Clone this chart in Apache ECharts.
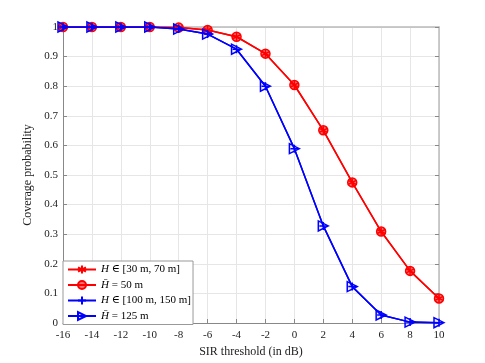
<!DOCTYPE html>
<html>
<head>
<meta charset="utf-8">
<script src="https://cdn.jsdelivr.net/npm/echarts@6/dist/echarts.min.js"></script>
<style>
  html, body { margin: 0; padding: 0; background: #fff; }
  #chart { width: 485px; height: 363px; }
</style>
</head>
<body>
<div id="chart"></div>
<script>
// SIR threshold (dB)
var sirThreshold = [-16, -14, -12, -10, -8, -6, -4, -2, 0, 2, 4, 6, 8, 10];
// coverage probability
var covRange30to70 = [1, 1, 1, 1, 0.998, 0.99, 0.967, 0.91, 0.804, 0.651, 0.475, 0.309, 0.176, 0.083];
var covMean50 = [1, 1, 1, 1, 0.998, 0.99, 0.967, 0.91, 0.804, 0.651, 0.475, 0.309, 0.176, 0.083];
var covRange100to150 = [1, 1, 1, 1, 0.993, 0.976, 0.925, 0.80, 0.589, 0.328, 0.123, 0.027, 0.003, 0.001];
var covMean125 = [1, 1, 1, 1, 0.993, 0.976, 0.925, 0.80, 0.589, 0.328, 0.123, 0.027, 0.003, 0.001];
var yTicks = [0, 0.1, 0.2, 0.3, 0.4, 0.5, 0.6, 0.7, 0.8, 0.9, 1];

var legendText = {
  s1: '{i|H} ∈ [30 m, 70 m]',
  s2: '{i|H\u0304} = 50 m',
  s3: '{i|H} ∈ [100 m, 150 m]',
  s4: '{i|H\u0304} = 125 m'
};

var serif = '"Liberation Serif", "DejaVu Serif", serif';
var starPath = 'path://M0,-10L0,10M-8.66,-5L8.66,5M-8.66,5L8.66,-5';
var plusPath = 'path://M0,-10L0,10M-10,0L10,0';

function pairs(ys) {
  return sirThreshold.map(function (x, i) { return [x, ys[i]]; });
}

var chart = echarts.init(document.getElementById('chart'));

var option = {
  backgroundColor: '#fff',
  animation: false,
  textStyle: { fontFamily: serif },
  grid: { left: 63, right: 46, top: 27, bottom: 40, show: false },
  legend: {
    orient: 'vertical',
    left: 63,
    top: 261,
    padding: [3, 2, 3, 4],
    itemWidth: 28,
    itemHeight: 10,
    itemGap: 4.5,
    backgroundColor: '#fff',
    borderColor: '#999',
    borderWidth: 1,
    borderRadius: 0,
    data: ['s1', 's2', 's3', 's4'],
    formatter: function (name) { return legendText[name]; },
    textStyle: {
      fontFamily: serif,
      fontSize: 11,
      color: '#000',
      rich: { i: { fontFamily: serif, fontStyle: 'italic', fontSize: 11, color: '#000' } }
    }
  },
  xAxis: [{
    type: 'value',
    min: -16,
    max: 10,
    interval: 2,
    name: 'SIR threshold (in dB)',
    nameLocation: 'middle',
    nameGap: 22,
    nameTextStyle: { fontFamily: serif, fontSize: 12, color: '#222' },
    axisLine: { onZero: false, lineStyle: { color: '#888', width: 1 } },
    axisTick: { inside: true, length: 4, lineStyle: { color: '#888' } },
    axisLabel: { fontFamily: serif, fontSize: 11, color: '#222', margin: 7 },
    splitLine: { show: true, lineStyle: { color: '#e6e6e6', width: 1 } }
  }, {
    type: 'value',
    position: 'top',
    min: -16,
    max: 10,
    interval: 2,
    axisLine: { onZero: false, lineStyle: { color: '#bbb', width: 1.5 } },
    axisTick: { show: false },
    axisLabel: { show: false },
    splitLine: { show: false }
  }],
  yAxis: [{
    type: 'value',
    min: 0,
    max: 1,
    interval: 0.1,
    name: 'Coverage probability',
    nameLocation: 'middle',
    nameGap: 24,
    nameTextStyle: { fontFamily: serif, fontSize: 12, color: '#222' },
    axisLine: { show: true, onZero: false, lineStyle: { color: '#888', width: 1 } },
    axisTick: { show: true, inside: true, length: 4, lineStyle: { color: '#888' } },
    axisLabel: {
      fontFamily: serif, fontSize: 11, color: '#222', margin: 5,
      formatter: function (v) {
        var t = yTicks.find(function (k) { return Math.abs(k - v) < 1e-9; });
        return t === undefined ? '' : String(t);
      }
    },
    splitLine: { show: true, lineStyle: { color: '#e6e6e6', width: 1 } }
  }, {
    type: 'value',
    position: 'right',
    min: 0,
    max: 1,
    interval: 0.1,
    axisLine: { show: true, onZero: false, lineStyle: { color: '#bbb', width: 1.5 } },
    axisTick: { show: true, inside: true, length: 4, lineStyle: { color: '#888' } },
    axisLabel: { show: false },
    splitLine: { show: false }
  }],
  series: [{
    name: 's1',
    type: 'line',
    data: pairs(covRange30to70),
    symbol: starPath,
    symbolSize: 8,
    lineStyle: { color: '#ff0000', width: 1.5 },
    itemStyle: { color: 'rgba(0,0,0,0)', borderColor: '#ff0000', borderWidth: 1.5 },
    z: 3
  }, {
    name: 's2',
    type: 'line',
    data: pairs(covMean50),
    symbol: 'circle',
    symbolSize: 9,
    lineStyle: { color: '#ff0000', width: 1.5 },
    itemStyle: { color: 'rgba(255,0,0,0.55)', borderColor: '#ff0000', borderWidth: 1.5 },
    z: 4
  }, {
    name: 's3',
    type: 'line',
    data: pairs(covRange100to150),
    symbol: plusPath,
    symbolSize: 8,
    lineStyle: { color: '#0000ff', width: 1.5 },
    itemStyle: { color: 'rgba(0,0,0,0)', borderColor: '#0000ff', borderWidth: 1.5 },
    z: 5
  }, {
    name: 's4',
    type: 'line',
    data: pairs(covMean125),
    symbol: 'triangle',
    symbolRotate: -90,
    symbolSize: 10,
    lineStyle: { color: '#0000ff', width: 1.5 },
    itemStyle: { color: 'rgba(0,0,255,0.08)', borderColor: '#0000ff', borderWidth: 1.5 },
    z: 6
  }]
};

chart.setOption(option);
</script>
</body>
</html>
